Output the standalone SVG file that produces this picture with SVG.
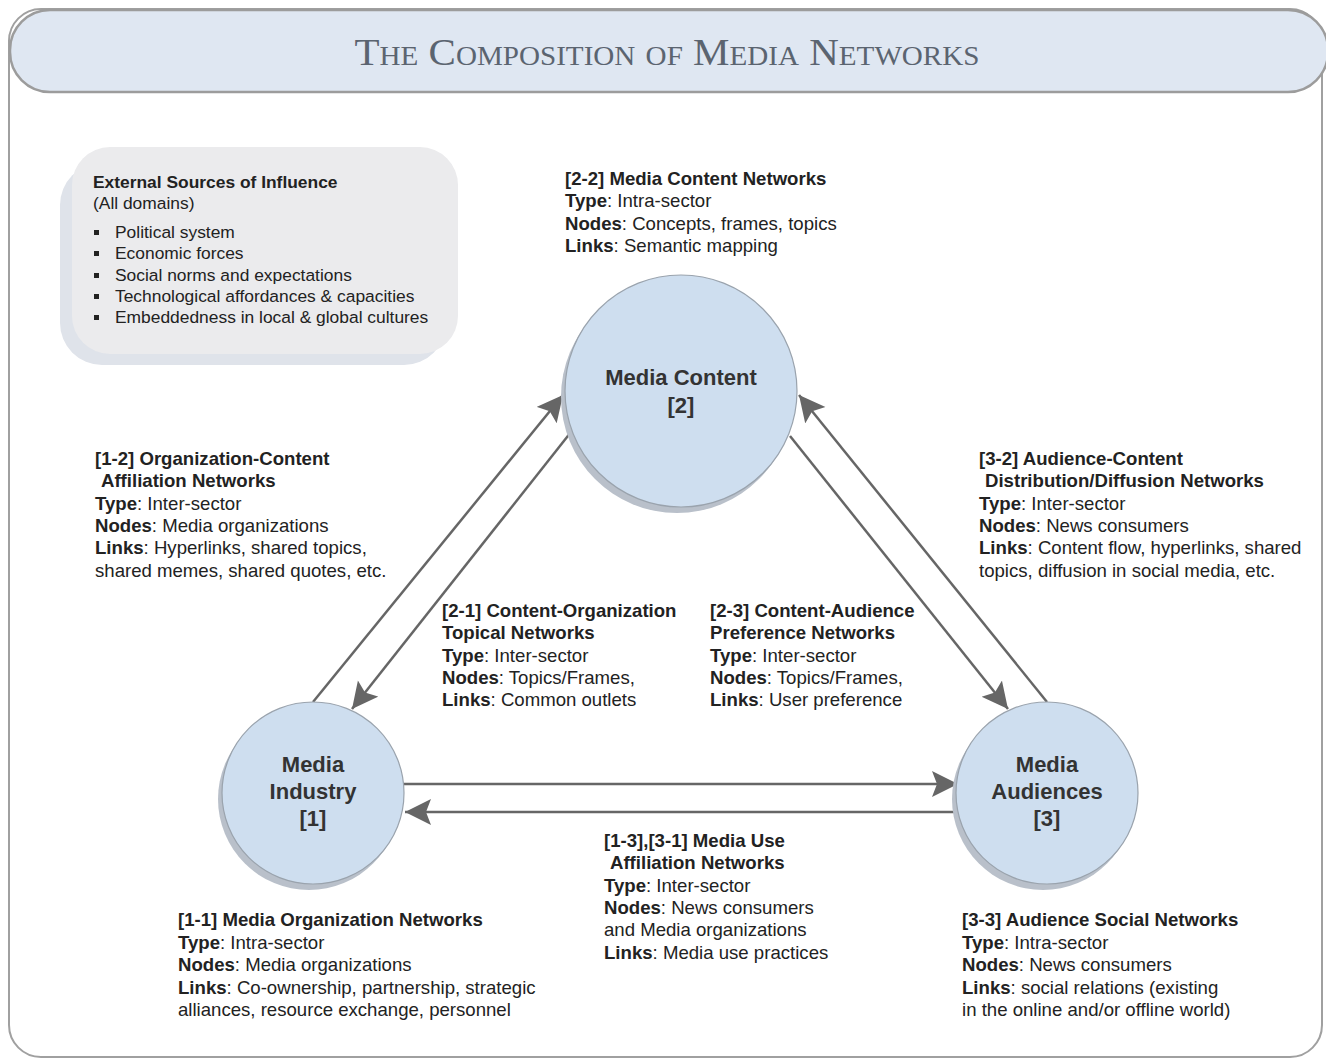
<svg xmlns="http://www.w3.org/2000/svg" width="1326" height="1061" viewBox="0 0 1326 1061">
<defs>
<marker id="ah" markerUnits="userSpaceOnUse" markerWidth="30" markerHeight="30" refX="26" refY="13" orient="auto">
<path d="M0,0 L26,13 L0,26 L5,13 Z" fill="#666"/>
</marker>
</defs>
<style>
.t{font-family:"Liberation Sans",Arial,sans-serif;font-size:18.6px;fill:#222}
.b{font-weight:bold}
.bx{font-family:"Liberation Sans",Arial,sans-serif;font-size:17.4px;fill:#222}
.lbl{font-family:"Liberation Sans",Arial,sans-serif;font-size:22px;font-weight:bold;fill:#333;text-anchor:middle}
.circ{fill:#cedeef;stroke:#9aa3ad;stroke-width:1.2}
.sh{fill:#b9c0ca}
.con{stroke:#666;stroke-width:2.5;fill:none;marker-end:url(#ah)}
</style>
<rect x="0" y="0" width="1326" height="1061" fill="#fff"/>
<rect x="9" y="9" width="1313" height="1048" rx="32" fill="#fff" stroke="#a0a0a0" stroke-width="2"/>
<g id="title">
<rect x="10" y="10" width="1318" height="82" rx="40" fill="#dfe7f2" stroke="#9c9c9c" stroke-width="2.5"/>
<text x="667" y="65" text-anchor="middle" font-family="Liberation Serif,Times New Roman,serif" font-size="38" font-variant="small-caps" fill="#5b6470" textLength="625" lengthAdjust="spacingAndGlyphs">The Composition of Media Networks</text>
</g>
<g id="external">
<rect x="60" y="163" width="386" height="202" rx="42" fill="#dfe3ea"/>
<rect x="72" y="147" width="386" height="207" rx="38" fill="#ebebed"/>
<text class="bx b" x="93" y="188">External Sources of Influence</text>
<text class="bx" x="93" y="209">(All domains)</text>
<g fill="#222">
<rect x="94" y="230" width="5" height="5"/>
<rect x="94" y="251" width="5" height="5"/>
<rect x="94" y="273" width="5" height="5"/>
<rect x="94" y="294" width="5" height="5"/>
<rect x="94" y="315" width="5" height="5"/>
</g>
<text class="bx" x="115" y="238">Political system</text>
<text class="bx" x="115" y="259">Economic forces</text>
<text class="bx" x="115" y="281">Social norms and expectations</text>
<text class="bx" x="115" y="302">Technological affordances &amp; capacities</text>
<text class="bx" x="115" y="323">Embeddedness in local &amp; global cultures</text>
</g>
<g id="connectors">
<line class="con" x1="313" y1="702" x2="563" y2="395"/>
<line class="con" x1="571" y1="432" x2="352" y2="709"/>
<line class="con" x1="790" y1="436" x2="1008" y2="709"/>
<line class="con" x1="1047" y1="702" x2="799" y2="395"/>
<line class="con" x1="404" y1="784" x2="958" y2="784"/>
<line class="con" x1="957" y1="812" x2="405" y2="812"/>
</g>
<g id="node-content">
<circle class="sh" cx="677" cy="397" r="116"/>
<circle class="circ" cx="681" cy="391" r="116"/>
<text class="lbl" x="681" y="385">Media Content</text>
<text class="lbl" x="681" y="413">[2]</text>
</g>
<g id="node-industry">
<circle class="sh" cx="309" cy="799" r="91"/>
<circle class="circ" cx="313" cy="793" r="91"/>
<text class="lbl" x="313" y="772">Media</text>
<text class="lbl" x="313" y="799">Industry</text>
<text class="lbl" x="313" y="826">[1]</text>
</g>
<g id="node-audiences">
<circle class="sh" cx="1043" cy="799" r="91"/>
<circle class="circ" cx="1047" cy="793" r="91"/>
<text class="lbl" x="1047" y="772">Media</text>
<text class="lbl" x="1047" y="799">Audiences</text>
<text class="lbl" x="1047" y="826">[3]</text>
</g>
<g id="label-2-2">
<text class="t b" x="565" y="185">[2-2] Media Content Networks</text>
<text class="t" x="565" y="207"><tspan class="b">Type</tspan>: Intra-sector</text>
<text class="t" x="565" y="230"><tspan class="b">Nodes</tspan>: Concepts, frames, topics</text>
<text class="t" x="565" y="252"><tspan class="b">Links</tspan>: Semantic mapping</text>
</g>
<g id="label-1-2">
<text class="t b" x="95" y="465">[1-2] Organization-Content</text>
<text class="t b" x="101" y="487">Affiliation Networks</text>
<text class="t" x="95" y="510"><tspan class="b">Type</tspan>: Inter-sector</text>
<text class="t" x="95" y="532"><tspan class="b">Nodes</tspan>: Media organizations</text>
<text class="t" x="95" y="554"><tspan class="b">Links</tspan>: Hyperlinks, shared topics,</text>
<text class="t" x="95" y="577">shared memes, shared quotes, etc.</text>
</g>
<g id="label-3-2">
<text class="t b" x="979" y="465">[3-2] Audience-Content</text>
<text class="t b" x="985" y="487">Distribution/Diffusion Networks</text>
<text class="t" x="979" y="510"><tspan class="b">Type</tspan>: Inter-sector</text>
<text class="t" x="979" y="532"><tspan class="b">Nodes</tspan>: News consumers</text>
<text class="t" x="979" y="554"><tspan class="b">Links</tspan>: Content flow, hyperlinks, shared</text>
<text class="t" x="979" y="577">topics, diffusion in social media, etc.</text>
</g>
<g id="label-2-1">
<text class="t b" x="442" y="617">[2-1] Content-Organization</text>
<text class="t b" x="442" y="639">Topical Networks</text>
<text class="t" x="442" y="662"><tspan class="b">Type</tspan>: Inter-sector</text>
<text class="t" x="442" y="684"><tspan class="b">Nodes</tspan>: Topics/Frames,</text>
<text class="t" x="442" y="706"><tspan class="b">Links</tspan>: Common outlets</text>
</g>
<g id="label-2-3">
<text class="t b" x="710" y="617">[2-3] Content-Audience</text>
<text class="t b" x="710" y="639">Preference Networks</text>
<text class="t" x="710" y="662"><tspan class="b">Type</tspan>: Inter-sector</text>
<text class="t" x="710" y="684"><tspan class="b">Nodes</tspan>: Topics/Frames,</text>
<text class="t" x="710" y="706"><tspan class="b">Links</tspan>: User preference</text>
</g>
<g id="label-1-3">
<text class="t b" x="604" y="847">[1-3],[3-1] Media Use</text>
<text class="t b" x="610" y="869">Affiliation Networks</text>
<text class="t" x="604" y="892"><tspan class="b">Type</tspan>: Inter-sector</text>
<text class="t" x="604" y="914"><tspan class="b">Nodes</tspan>: News consumers</text>
<text class="t" x="604" y="936">and Media organizations</text>
<text class="t" x="604" y="959"><tspan class="b">Links</tspan>: Media use practices</text>
</g>
<g id="label-1-1">
<text class="t b" x="178" y="926">[1-1] Media Organization Networks</text>
<text class="t" x="178" y="949"><tspan class="b">Type</tspan>: Intra-sector</text>
<text class="t" x="178" y="971"><tspan class="b">Nodes</tspan>: Media organizations</text>
<text class="t" x="178" y="994"><tspan class="b">Links</tspan>: Co-ownership, partnership, strategic</text>
<text class="t" x="178" y="1016">alliances, resource exchange, personnel</text>
</g>
<g id="label-3-3">
<text class="t b" x="962" y="926">[3-3] Audience Social Networks</text>
<text class="t" x="962" y="949"><tspan class="b">Type</tspan>: Intra-sector</text>
<text class="t" x="962" y="971"><tspan class="b">Nodes</tspan>: News consumers</text>
<text class="t" x="962" y="994"><tspan class="b">Links</tspan>: social relations (existing</text>
<text class="t" x="962" y="1016">in the online and/or offline world)</text>
</g>
</svg>
